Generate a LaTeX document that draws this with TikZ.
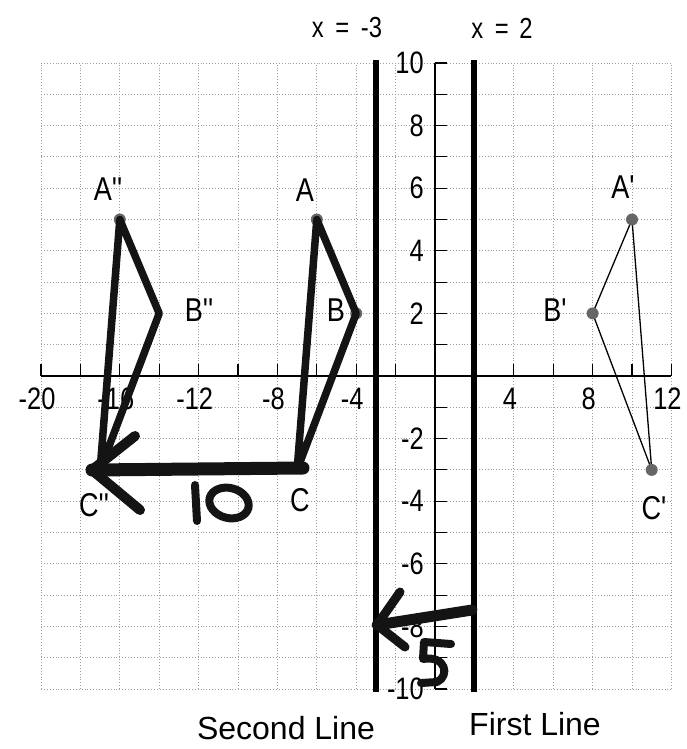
\documentclass[tikz,border=0pt]{standalone}
\usepackage{fontspec}
\setmainfont{Liberation Sans}
\newfontfamily\labfont{Liberation Sans}[FakeStretch=0.82]
\tikzset{
  gridline/.style={draw=gray!75, dotted, line width=0.9pt},
  axisline/.style={draw=black, line width=1.1pt},
  refline/.style={draw=black, line width=6pt},
  thintri/.style={draw=black, line width=1.3pt, line join=round},
  vdot/.style={fill=black!60},
  marker/.style={draw=black!92, line width=7.5pt, line cap=round, line join=round},
  numlab/.style={font=\labfont\fontsize{31}{31}\selectfont, inner sep=0pt},
  ptlab/.style={font=\labfont\fontsize{33}{33}\selectfont, inner sep=0pt},
  titlelab/.style={font=\labfont\fontsize{29}{29}\selectfont, inner sep=0pt},
  captionlab/.style={font=\fontsize{32}{32}\selectfont, inner sep=0pt},
}
\begin{document}
\begin{tikzpicture}[x=1pt,y=-1pt]
\useasboundingbox (0,0) rectangle (686,749);
\begin{scope}[shift={(435pt,-376pt)}, x=19.7pt, y=31.3pt]
  % grid
  \foreach \i in {-20,-18,...,12} \draw[gridline] (\i,-10) -- (\i,10);
  \foreach \j in {-10,...,10} \draw[gridline] (-20,\j) -- (12,\j);
  % axes
  \draw[axisline] (-20,0) -- (12,0);
  \draw[axisline] (0,-10) -- (0,10);
  \foreach \i in {-20,-18,...,12} \draw[axisline] (\i,0) -- (\i,0.38);
  \foreach \j in {-10,...,10} \draw[axisline] (0,\j) -- (0.6,\j);
  % axis labels
  \foreach \i in {-20,-16,-12,-8,-4,4,8,12}
    \node[numlab, anchor=north] (xl\i) at ({\i-0.2},-0.38) {\i};
  \foreach \j in {10,8,6,4,2,-2,-4,-6,-8,-10}
    \node[numlab, anchor=east] (yl\j) at (-0.56,\j) {\j};
  % reflection lines
  \coordinate (L1top) at (2,10.1);
  \coordinate (L1bot) at (2,-10.1);
  \coordinate (L2top) at (-3,10.1);
  \coordinate (L2bot) at (-3,-10.1);
  \draw[refline] (L1top) -- (L1bot);
  \draw[refline] (L2top) -- (L2bot);
  % vertices
  \coordinate (Ap) at (10,5);
  \coordinate (Bp) at (8,2);
  \coordinate (Cp) at (11,-3);
  \coordinate (A) at (-6,5);
  \coordinate (B) at (-4,2);
  \coordinate (C) at (-7,-3);
  \coordinate (App) at (-16,5);
  \coordinate (Bpp) at (-14,2);
  \coordinate (Cpp) at (-17,-3);
\end{scope}
% titles
\node[titlelab] (t1) at (347,28) {x\hspace{5pt} =\hspace{5pt} -3};
\node[titlelab] (t2) at (502,28) {x\hspace{5pt} =\hspace{4pt} 2};
\node[captionlab] (c1) at (286,728) {Second Line};
\node[captionlab] (c2) at (535,724) {First Line};
% point labels
\node[ptlab] (lApp) at (108,189) {A''};
\node[ptlab] (lBpp) at (199,310) {B''};
\node[ptlab] (lCpp) at (94,505) {C''};
\node[ptlab] (lA) at (305,190) {A};
\node[ptlab] (lB) at (336,310) {B};
\node[ptlab] (lC) at (300,500) {C};
\node[ptlab] (lAp) at (623,187) {A'};
\node[ptlab] (lBp) at (555,310) {B'};
\node[ptlab] (lCp) at (654,508) {C'};
% original triangle
\draw[thintri] (Ap) -- (Bp) -- (Cp) -- cycle;
\foreach \p in {Ap,Bp,Cp,A,B,App} \fill[vdot] (\p) circle (6pt);
% hand-drawn triangles
\draw[marker] (A) -- (B) -- (C) -- cycle;
\draw[marker] (App) -- (Bpp) -- (Cpp) -- cycle;
% arrow "10"
\coordinate (tip10) at (92,470);
\coordinate (w10a) at (135,436);
\coordinate (w10b) at (140,510);
\coordinate (C10) at (303,468);
\draw[marker, line width=13pt] (C10) -- (tip10);
\draw[marker, line width=10pt] (w10a) -- (tip10) -- (w10b);
\draw[marker, line width=8pt] (195,485) -- (197,521);
\draw[marker, line width=8pt] (229,503) ellipse [x radius=20pt, y radius=15pt, rotate=-15];
% arrow "5"
\coordinate (s5) at (472,610);
\coordinate (t5) at (377,625);
\coordinate (w5a) at (400,592);
\coordinate (w5b) at (405,647);
\draw[marker, line width=11pt] (s5) -- (t5);
\draw[marker, line width=9pt] (w5a) -- (t5) -- (w5b);
\draw[marker, line width=8pt] (451,644) -- (424,642) -- (423,659)
  .. controls (446,655) and (450,676) .. (437,682) -- (421,683);
\end{tikzpicture}
\end{document}
